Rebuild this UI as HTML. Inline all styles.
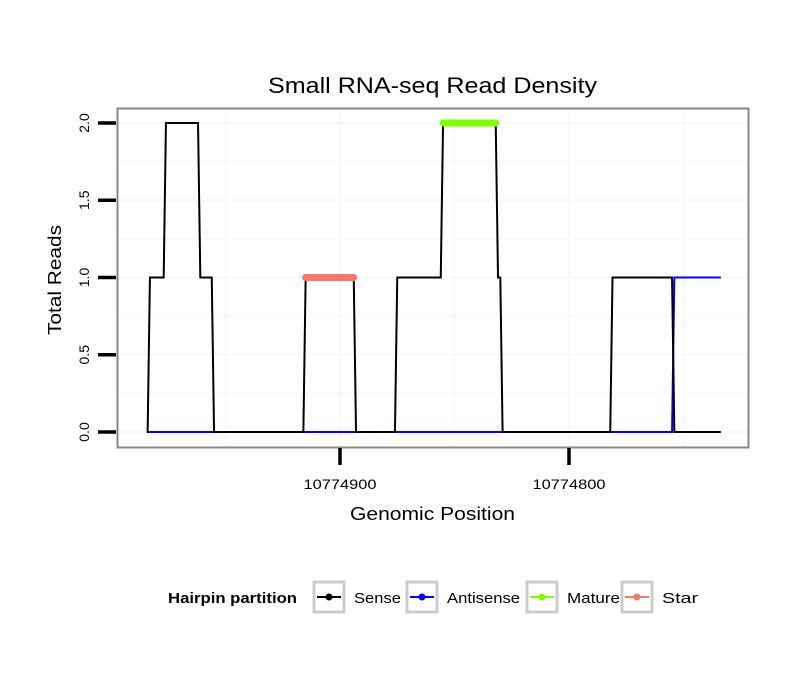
<!DOCTYPE html>
<html><head><meta charset="utf-8"><style>
body{margin:0;background:#fff;font-family:"Liberation Sans",sans-serif}
</style></head><body>
<svg id="c" width="810" height="690" xmlns="http://www.w3.org/2000/svg" font-family="Liberation Sans, sans-serif">
<text x="268" y="93" font-size="22" textLength="329" lengthAdjust="spacingAndGlyphs">Small RNA-seq Read Density</text>
<g id="grid"></g>
<g id="series"></g>
<rect x="117.5" y="108.5" width="631" height="339" fill="none" stroke="#888" stroke-width="2"/>
<g id="axes"></g>
<text x="350" y="520" font-size="18" textLength="165" lengthAdjust="spacingAndGlyphs">Genomic Position</text>
<text transform="translate(61,335) rotate(-90)" font-size="18" textLength="110" lengthAdjust="spacingAndGlyphs">Total Reads</text>
<g font-size="15">
<text x="168" y="603" font-weight="bold" textLength="129" lengthAdjust="spacingAndGlyphs">Hairpin partition</text>
<g><rect x="314" y="582" width="30" height="30" fill="none" stroke="#ccc" stroke-width="3"/><line x1="317" y1="597" x2="341" y2="597" stroke="#000" stroke-width="2"/><circle cx="329" cy="597" r="3.5" fill="#000"/><text x="354" y="603" textLength="47" lengthAdjust="spacingAndGlyphs">Sense</text></g>
<g><rect x="407" y="582" width="30" height="30" fill="none" stroke="#ccc" stroke-width="3"/><line x1="410" y1="597" x2="434" y2="597" stroke="#00f" stroke-width="2"/><circle cx="422" cy="597" r="3.5" fill="#00f"/><text x="447" y="603" textLength="73" lengthAdjust="spacingAndGlyphs">Antisense</text></g>
<g><rect x="527" y="582" width="30" height="30" fill="none" stroke="#ccc" stroke-width="3"/><line x1="530" y1="597" x2="554" y2="597" stroke="#7fff00" stroke-width="2"/><circle cx="542" cy="597" r="3.5" fill="#7fff00"/><text x="567" y="603" textLength="53" lengthAdjust="spacingAndGlyphs">Mature</text></g>
<g><rect x="622" y="582" width="30" height="30" fill="none" stroke="#ccc" stroke-width="3"/><line x1="625" y1="597" x2="649" y2="597" stroke="#f8766d" stroke-width="2"/><circle cx="637" cy="597" r="3.5" fill="#f8766d"/><text x="662" y="603" textLength="36" lengthAdjust="spacingAndGlyphs">Star</text></g>
</g>
</svg>
<script>
const senseX=[10774984,10774983,10774977,10774976,10774962,10774961,10774956,10774955,10774916,10774915,10774894,10774893,10774876,10774875,10774856,10774855,10774832,10774831,10774830,10774829,10774782,10774781,10774755,10774754,10774734];
const senseY=[0,1,1,2,2,1,1,0,0,1,1,0,0,1,1,2,2,1,1,0,0,1,1,0,0];
const antisenseX=[10774984,10774755,10774754,10774734];
const antisenseY=[0,0,1,1];
const matureX=[10774855,10774832];
const matureY=[2,2];
const starX=[10774915,10774894];
const starY=[1,1];
const xTicks=[10774900,10774800];
const xTickLabels=["10774900","10774800"];
const yTicks=[0,0.5,1,1.5,2];
const yTickLabels=["0.0","0.5","1.0","1.5","2.0"];
const NS="http://www.w3.org/2000/svg";
function xs(p){return 340+(10774900-p)*2.29;}
function ys(v){return 432-v*154.5;}
function mk(t,a,parent){const e=document.createElementNS(NS,t);for(const k in a)e.setAttribute(k,a[k]);parent.appendChild(e);return e;}
const grid=document.getElementById('grid'),ser=document.getElementById('series'),ax=document.getElementById('axes');
for(let v=0;v<=2.001;v+=0.25){const l=mk('line',{x1:118,x2:748,y1:ys(v),y2:ys(v),stroke:'#f8f8f8','stroke-width':v%0.5===0?2:1.5},grid);

}
[10774950,10774900,10774850,10774800,10774750].forEach(p=>{const x=xs(p);if(x<118||x>748)return;const l=mk('line',{x1:x,x2:x,y1:109,y2:447,stroke:'#f8f8f8','stroke-width':2},grid);

});
function path(X,Y,col,w,name){const d=X.map((p,i)=>(i?'L':'M')+xs(p)+' '+ys(Y[i])).join(' ');const e=mk('path',{d:d,fill:'none',stroke:col,'stroke-width':w,'stroke-linecap':'round'},ser);

}
path(antisenseX,antisenseY,'#00f',2,'antisense-line');
path(senseX,senseY,'#000',2,'sense-line');
path(starX,starY,'#f8766d',7,'star-line');
path(matureX,matureY,'#7fff00',7,'mature-line');
yTicks.forEach((v,i)=>{const l=mk('line',{x1:98,x2:116,y1:ys(v),y2:ys(v),stroke:'#000','stroke-width':3.5},ax);


const t=mk('text',{transform:`translate(89,${ys(v)}) rotate(-90)`,'font-size':14,'text-anchor':'middle'},ax);t.textContent=yTickLabels[i];

});
xTicks.forEach((p,i)=>{const l=mk('line',{x1:xs(p),x2:xs(p),y1:448,y2:465,stroke:'#000','stroke-width':3.5},ax);


const t=mk('text',{x:xs(p),y:489,'font-size':14,'text-anchor':'middle',textLength:73,lengthAdjust:'spacingAndGlyphs'},ax);t.textContent=xTickLabels[i];

});
</script>
</body></html>
